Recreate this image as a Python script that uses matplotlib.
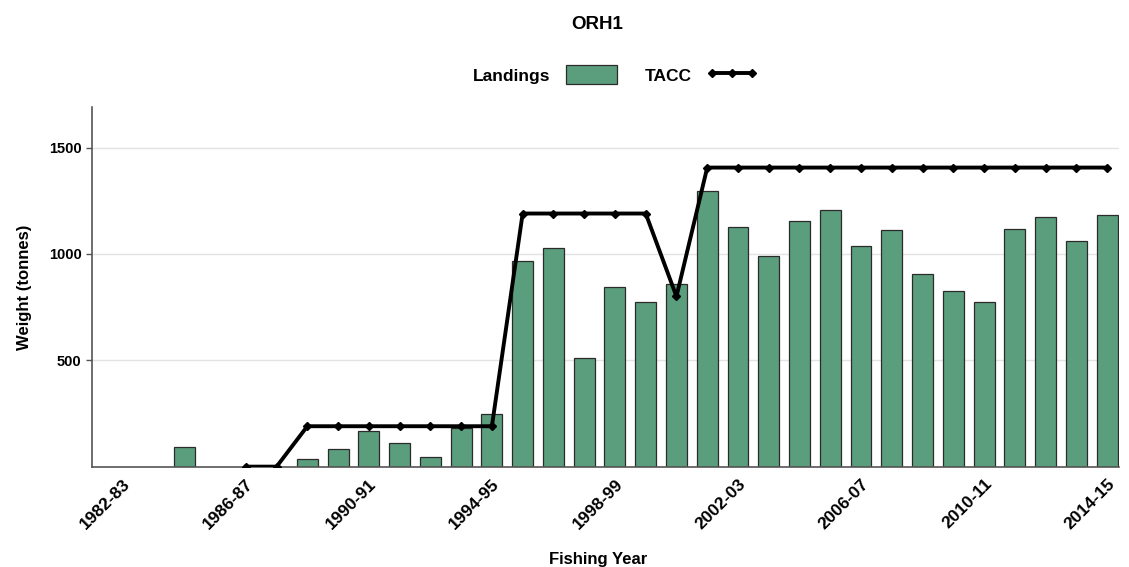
import numpy as np
import matplotlib.pyplot as plt
from matplotlib.patches import Patch
from matplotlib.lines import Line2D

plt.rcParams['font.family'] = ['Liberation Sans', 'DejaVu Sans']

# Fishing years 1982-83 .. 2014-15
years = ['%d-%02d' % (y, (y + 1) % 100) for y in range(1982, 2015)]

# Landings (tonnes), NaN = no landings shown
landings = [np.nan, np.nan, 94, np.nan, np.nan, np.nan, 35, 83, 168, 110,
            47, 183, 246, 965, 1028, 510, 844, 772, 860, 1297,
            1126, 991, 1153, 1208, 1037, 1111, 907, 828, 772, 1117,
            1174, 1059, 1183]

# TACC (tonnes)
tacc = [np.nan, np.nan, np.nan, np.nan, 0, 0, 190, 190, 190, 190,
        190, 190, 190, 1190, 1190, 1190, 1190, 1190, 800, 1406,
        1406, 1406, 1406, 1406, 1406, 1406, 1406, 1406, 1406, 1406,
        1406, 1406, 1406]

bar_col = '#5b9e7d'
x = np.arange(len(years))

fig = plt.figure(figsize=(11.29, 5.67), dpi=100)
ax = fig.add_axes([0.0815, 0.177, 0.91, 0.634])

ax.bar(x, landings, width=0.68, color=bar_col, edgecolor='#2b2b2b', linewidth=0.9, zorder=2)
ax.plot(x, tacc, color='black', linewidth=2.8, marker='D', markersize=4, zorder=3)

ax.set_xlim(-1.0, 32.4)
ax.set_ylim(0, 1690)
ax.set_yticks([500, 1000, 1500])
ax.set_yticklabels(['500', '1000', '1500'], fontsize=10.5, fontweight='bold')
ax.yaxis.grid(True, color='#e3e3e3', linewidth=1, zorder=0)
ax.set_axisbelow(True)

ax.set_xticks(x[::4])
ax.set_xticklabels(years[::4], rotation=45, ha='right', rotation_mode='anchor',
                   fontsize=12.5, fontweight='bold')
ax.tick_params(axis='x', length=0, pad=7)
ax.tick_params(axis='y', length=4, color='#555555', width=1)

for s in ['top', 'right']:
    ax.spines[s].set_visible(False)
for s in ['left', 'bottom']:
    ax.spines[s].set_color('#555555')
    ax.spines[s].set_linewidth(1.2)

ax.set_ylabel('Weight (tonnes)', fontsize=12, fontweight='bold', labelpad=12)
fig.text(0.53, 0.005, 'Fishing Year', ha='center', fontsize=12, fontweight='bold')
fig.text(0.529, 0.948, 'ORH1', ha='center', fontsize=13.5, fontweight='bold')

handles = [Patch(facecolor=bar_col, edgecolor='#2b2b2b', linewidth=0.9),
           Line2D([0], [0], color='black', linewidth=2.8, marker='D', markersize=4)]
fig.legend(handles, ['Landings', 'TACC'], loc='center', bbox_to_anchor=(0.545, 0.868),
           ncol=2, frameon=False, markerfirst=False, handlelength=2.9, handleheight=1.3,
           handletextpad=0.9, numpoints=3, columnspacing=1.6,
           prop={'weight': 'bold', 'size': 12.5})

fig.savefig('out.png', dpi=100)
